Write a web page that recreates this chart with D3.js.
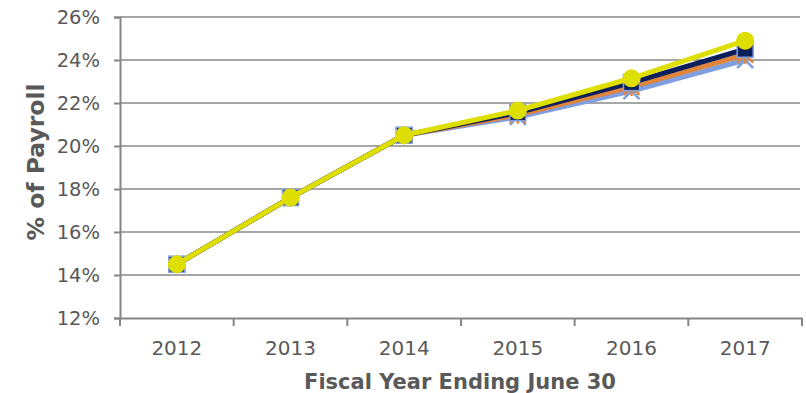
<!DOCTYPE html>
<html lang="en">
<head>
  <meta charset="UTF-8">
  <title>% of Payroll</title>
  <script src="https://d3js.org/d3.v7.min.js"></script>
  <style>
    body { margin: 0; background: #fff; }
    text { font-family: 'DejaVu Sans', Verdana, sans-serif; fill: #595959; }
  </style>
</head>
<body>
  <div id="viz"></div>

  <script>
    const years = ['2012', '2013', '2014', '2015', '2016', '2017'];
    const yTicks = [12, 14, 16, 18, 20, 22, 24, 26];

    // values, % of payroll
    const blueVals   = [14.5, 17.6, 20.5, 21.35, 22.55, 24.0];
    const orangeVals = [14.5, 17.6, 20.5, 21.45, 22.75, 24.25];
    const navyVals   = [14.5, 17.6, 20.5, 21.55, 22.95, 24.5];
    const yellowVals = [14.5, 17.6, 20.5, 21.65, 23.15, 24.9];

    const series = [
      { name: 'blue',   values: blueVals,   color: '#7f9fe0', marker: 'x' },
      { name: 'orange', values: orangeVals, color: '#e0853a', marker: 'star' },
      { name: 'navy',   values: navyVals,   color: '#0c1f5a', marker: 'square' },
      { name: 'yellow', values: yellowVals, color: '#dede00', marker: 'circle' }
    ];

    const W = 806, H = 393;
    const mLeft = 120, mRight = 802, mTop = 17, mBottom = 318;

    const svg = d3.select('#viz')
      .append('svg')
        .attr('width', W)
        .attr('height', H);

    const x = d3.scaleBand().domain(years).range([mLeft, mRight]);
    const y = d3.scaleLinear().domain([12, 26]).range([mBottom, mTop]);

    // gridlines
    svg.append('g')
      .selectAll('line')
      .data(yTicks.slice(1))
      .enter()
      .append('line')
        .attr('x1', mLeft).attr('x2', mRight - 2)
        .attr('y1', d => y(d)).attr('y2', d => y(d))
        .style('stroke', '#a6a6a6')
        .style('stroke-width', 2);

    // y axis
    const yAxis = svg.append('g')
      .attr('transform', `translate(${mLeft},0)`)
      .call(d3.axisLeft(y).tickValues(yTicks).tickSize(6).tickPadding(14).tickFormat(d => d + '%'));
    yAxis.select('.domain').style('stroke', '#868686').style('stroke-width', 2);
    yAxis.selectAll('.tick line').style('stroke', '#868686').style('stroke-width', 2);
    yAxis.selectAll('.tick text').style('font-size', '19.5px').style('fill', '#595959');

    // x axis with band boundary ticks
    const xAxis = svg.append('g')
      .attr('transform', `translate(0,${mBottom})`)
      .call(d3.axisBottom(x).tickSize(0).tickPadding(23));
    xAxis.select('.domain').style('stroke', '#868686').style('stroke-width', 2);
    xAxis.selectAll('.tick text').style('font-size', '20px').style('fill', '#595959');
    xAxis.selectAll('.bound')
      .data(years.map(d => x(d)).concat([mRight]))
      .enter()
      .append('line')
        .attr('x1', d => d).attr('x2', d => d)
        .attr('y1', 0).attr('y2', 8)
        .style('stroke', '#868686')
        .style('stroke-width', 2);

    // axis titles
    svg.append('text')
      .attr('x', 460)
      .attr('y', 389)
      .attr('text-anchor', 'middle')
      .style('font-size', '21px')
      .style('font-weight', 'bold')
      .text('Fiscal Year Ending June 30');

    svg.append('text')
      .attr('transform', `translate(44,${162}) rotate(-90)`)
      .attr('text-anchor', 'middle')
      .style('font-size', '23.5px')
      .style('font-weight', 'bold')
      .text('% of Payroll');

    const line = d3.line()
      .x((d, i) => x(years[i]) + x.bandwidth() / 2)
      .y(d => y(d));

    series.forEach(s => {
      const g = svg.append('g');
      g.append('path')
        .datum(s.values)
        .attr('d', line)
        .style('fill', 'none')
        .style('stroke', s.color)
        .style('stroke-width', 5)
        .style('stroke-linejoin', 'round');

      const pts = g.selectAll('g.pt')
        .data(s.values)
        .enter()
        .append('g')
          .attr('transform', (d, i) => `translate(${x(years[i]) + x.bandwidth() / 2},${y(d)})`);

      if (s.marker === 'circle') {
        pts.append('circle').attr('r', 9).style('fill', s.color);
      } else if (s.marker === 'square') {
        pts.append('rect')
          .attr('x', -8).attr('y', -8).attr('width', 16).attr('height', 16)
          .style('fill', s.color).style('stroke', '#7f9fe0').style('stroke-width', 1.5);
      } else if (s.marker === 'x') {
        pts.append('path')
          .attr('d', 'M-8,-8L8,8M-8,8L8,-8')
          .style('stroke', s.color).style('stroke-width', 2.5);
      } else if (s.marker === 'star') {
        pts.append('path')
          .attr('d', 'M-8,-8L8,8M-8,8L8,-8M0,-9L0,9')
          .style('stroke', s.color).style('stroke-width', 2.5);
      }
    });
  </script>
</body>
</html>
